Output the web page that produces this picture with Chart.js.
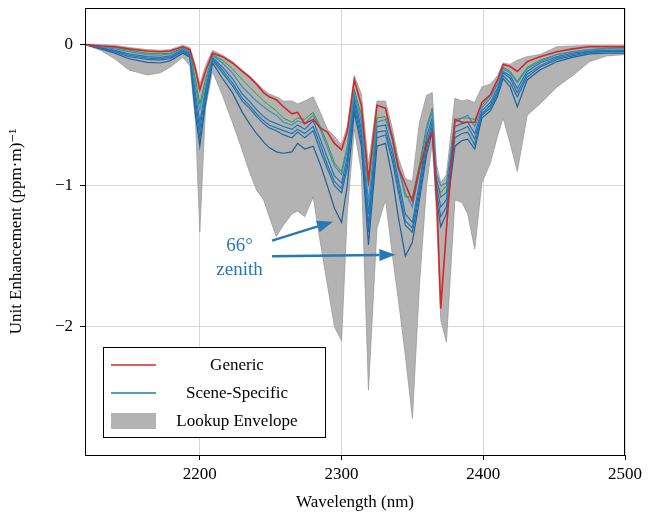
<!DOCTYPE html>
<html>
<head>
<meta charset="UTF-8" />
<title>Unit enhancement</title>
<script src="https://cdn.jsdelivr.net/npm/chart.js"></script>
<style>
  html, body { margin: 0; padding: 0; background: #fff; }
  #wrap { width: 648px; height: 517px; }
</style>
</head>
<body>
<div id="wrap"><canvas id="chart" width="648" height="517"></canvas></div>
<script>
// wavelengths (nm)
const WAVELENGTH = [2119, 2130, 2140, 2150, 2163, 2172, 2179, 2188, 2193, 2197,
  2200, 2204, 2209, 2216, 2223, 2230, 2235, 2240, 2245, 2249,
  2254, 2259, 2265, 2269, 2274, 2280, 2285, 2290, 2295, 2300,
  2304, 2309, 2314, 2319, 2325, 2331, 2336, 2340, 2345, 2350,
  2355, 2360, 2364, 2367, 2370, 2374, 2380, 2385, 2389, 2394,
  2399, 2405, 2410, 2414, 2419, 2424, 2431, 2440, 2452, 2463,
  2475, 2487, 2500];

const GENERIC = [0, -0.01, -0.015, -0.03, -0.045, -0.05, -0.045, -0.015, -0.035, -0.18,
  -0.32, -0.19, -0.06, -0.085, -0.13, -0.19, -0.23, -0.28, -0.34, -0.37,
  -0.39, -0.44, -0.49, -0.48, -0.56, -0.53, -0.59, -0.62, -0.70, -0.745,
  -0.62, -0.25, -0.43, -0.96, -0.43, -0.45, -0.67, -0.87, -0.99, -1.11,
  -0.88, -0.70, -0.62, -1.03, -1.87, -1.31, -0.53, -0.55, -0.55, -0.55,
  -0.41, -0.355, -0.25, -0.14, -0.155, -0.19, -0.12, -0.085, -0.05, -0.03,
  -0.015, -0.015, -0.015];

// unlabelled green curve
const GREEN_CURVE = [0, -0.012, -0.02, -0.04, -0.06, -0.065, -0.06, -0.025, -0.045, -0.25,
  -0.42, -0.25, -0.07, -0.11, -0.17, -0.25, -0.30, -0.35, -0.40, -0.43,
  -0.47, -0.52, -0.55, -0.52, -0.53, -0.48, -0.58, -0.70, -0.84, -0.90,
  -0.72, -0.32, -0.50, -1.00, -0.52, -0.51, -0.65, -0.85, -1.08, -1.08,
  -0.85, -0.58, -0.45, -0.98, -1.05, -1.00, -0.53, -0.52, -0.52, -0.53,
  -0.43, -0.36, -0.28, -0.16, -0.19, -0.26, -0.16, -0.11, -0.07, -0.05,
  -0.035, -0.025, -0.02];

// scene-specific curves, top to bottom (last one is the 66 deg zenith case)
const SCENE_A = [0, -0.015, -0.03, -0.05, -0.07, -0.075, -0.065, -0.03, -0.05, -0.30,
  -0.46, -0.28, -0.075, -0.13, -0.20, -0.30, -0.35, -0.40, -0.44, -0.47,
  -0.50, -0.55, -0.57, -0.54, -0.56, -0.50, -0.60, -0.73, -0.86, -0.92,
  -0.75, -0.33, -0.55, -1.12, -0.55, -0.53, -0.68, -0.88, -1.05, -1.15,
  -0.90, -0.60, -0.48, -0.92, -1.00, -0.98, -0.55, -0.52, -0.50, -0.58,
  -0.45, -0.38, -0.28, -0.17, -0.20, -0.27, -0.17, -0.12, -0.07, -0.05,
  -0.035, -0.03, -0.03];
const SCENE_B = [0, -0.02, -0.04, -0.065, -0.085, -0.09, -0.08, -0.035, -0.06, -0.35,
  -0.55, -0.32, -0.09, -0.16, -0.24, -0.35, -0.40, -0.46, -0.51, -0.54,
  -0.56, -0.58, -0.60, -0.57, -0.60, -0.54, -0.67, -0.80, -0.93, -0.98,
  -0.80, -0.37, -0.60, -1.20, -0.58, -0.57, -0.75, -0.95, -1.20, -1.26,
  -0.98, -0.65, -0.52, -0.95, -1.08, -1.05, -0.58, -0.56, -0.55, -0.63,
  -0.47, -0.41, -0.31, -0.19, -0.22, -0.31, -0.19, -0.13, -0.085, -0.06,
  -0.045, -0.04, -0.04];
const SCENE_C = [0, -0.022, -0.045, -0.075, -0.095, -0.10, -0.09, -0.045, -0.07, -0.40,
  -0.60, -0.35, -0.10, -0.18, -0.27, -0.38, -0.43, -0.49, -0.54, -0.57,
  -0.59, -0.61, -0.63, -0.60, -0.63, -0.58, -0.71, -0.85, -0.97, -1.02,
  -0.84, -0.40, -0.64, -1.28, -0.62, -0.61, -0.79, -1.00, -1.25, -1.30,
  -1.02, -0.70, -0.55, -1.00, -1.15, -1.10, -0.62, -0.60, -0.58, -0.67,
  -0.49, -0.43, -0.33, -0.20, -0.24, -0.34, -0.21, -0.15, -0.095, -0.07,
  -0.05, -0.045, -0.045];
const SCENE_D = [0, -0.025, -0.05, -0.085, -0.105, -0.11, -0.10, -0.05, -0.08, -0.45,
  -0.66, -0.38, -0.11, -0.20, -0.29, -0.40, -0.45, -0.51, -0.56, -0.59,
  -0.61, -0.64, -0.66, -0.62, -0.66, -0.61, -0.75, -0.88, -1.00, -1.05,
  -0.88, -0.44, -0.68, -1.33, -0.66, -0.64, -0.83, -1.04, -1.28, -1.33,
  -1.06, -0.74, -0.58, -1.05, -1.22, -1.15, -0.66, -0.63, -0.62, -0.71,
  -0.50, -0.45, -0.35, -0.22, -0.27, -0.37, -0.23, -0.16, -0.105, -0.08,
  -0.055, -0.05, -0.05];
const SCENE_E = [0, -0.03, -0.06, -0.10, -0.125, -0.13, -0.115, -0.06, -0.09, -0.50,
  -0.72, -0.42, -0.13, -0.24, -0.34, -0.48, -0.56, -0.63, -0.69, -0.73,
  -0.76, -0.77, -0.76, -0.70, -0.74, -0.72, -0.85, -1.00, -1.16, -1.26,
  -1.00, -0.48, -0.72, -1.42, -0.72, -0.70, -0.95, -1.22, -1.50, -1.40,
  -1.10, -0.78, -0.62, -1.10, -1.29, -1.20, -0.72, -0.68, -0.67, -0.74,
  -0.52, -0.47, -0.37, -0.24, -0.30, -0.44, -0.25, -0.18, -0.12, -0.09,
  -0.065, -0.06, -0.06];

const ENV_UPPER = [0.005, 0, -0.005, -0.02, -0.035, -0.04, -0.035, -0.005, -0.02, -0.15,
  -0.28, -0.15, -0.04, -0.075, -0.12, -0.18, -0.22, -0.27, -0.32, -0.35,
  -0.37, -0.40, -0.40, -0.42, -0.40, -0.37, -0.48, -0.60, -0.65, -0.71,
  -0.58, -0.22, -0.35, -0.85, -0.40, -0.40, -0.60, -0.80, -0.95, -0.97,
  -0.55, -0.36, -0.34, -0.85, -0.98, -0.92, -0.38, -0.40, -0.39, -0.41,
  -0.30, -0.28, -0.22, -0.13, -0.14, -0.11, -0.085, -0.07, -0.015, -0.01,
  -0.005, -0.005, -0.005];
const ENV_LOWER = [0, -0.04, -0.10, -0.18, -0.215, -0.20, -0.16, -0.09, -0.15, -0.55,
  -1.33, -0.45, -0.19, -0.36, -0.55, -0.75, -0.90, -1.03, -1.10, -1.22,
  -1.36, -1.28, -1.20, -1.18, -1.22, -1.08, -1.40, -1.70, -2.00, -2.10,
  -1.20, -0.60, -0.90, -2.45, -1.30, -1.10, -1.50, -1.80, -2.20, -2.65,
  -1.70, -1.00, -0.70, -1.20, -1.95, -2.11, -1.10, -1.12, -1.20, -1.45,
  -0.98, -0.84, -0.65, -0.52, -0.70, -0.90, -0.50, -0.42, -0.30, -0.22,
  -0.12, -0.08, -0.07];

const X_TICKS = [2200, 2300, 2400, 2500];
const Y_TICKS = [0, -1, -2];

const FONT = "'Liberation Serif', 'DejaVu Serif', serif";
const ANNOT_BLUE = '#2878b8';

function pts(vals) {
  return vals.map((v, i) => ({ x: WAVELENGTH[i], y: v }));
}

function line(label, vals, color, width, order) {
  return {
    label: label,
    data: pts(vals),
    borderColor: color,
    borderWidth: width,
    pointRadius: 0,
    tension: 0,
    fill: false,
    order: order
  };
}

// box on the top and right, legend, annotation
const extras = {
  id: 'extras',
  afterDraw(chart) {
    const ctx = chart.ctx;
    const a = chart.chartArea;
    const xs = chart.scales.x, ys = chart.scales.y;
    ctx.save();
    ctx.strokeStyle = '#000';
    ctx.lineWidth = 1;
    ctx.strokeRect(a.left + 0.5, a.top + 0.5, a.right - a.left - 1, a.bottom - a.top);

    // annotation text
    ctx.fillStyle = ANNOT_BLUE;
    ctx.font = '19px ' + FONT;
    ctx.textAlign = 'center';
    ctx.textBaseline = 'middle';
    ctx.fillText('66°', xs.getPixelForValue(2228), ys.getPixelForValue(-1.43));
    ctx.fillText('zenith', xs.getPixelForValue(2228), ys.getPixelForValue(-1.595));

    function arrow(x0, y0, x1, y1) {
      const px0 = xs.getPixelForValue(x0), py0 = ys.getPixelForValue(y0);
      const px1 = xs.getPixelForValue(x1), py1 = ys.getPixelForValue(y1);
      const ang = Math.atan2(py1 - py0, px1 - px0);
      const hl = 16, hw = 6;
      const bx = px1 - hl * Math.cos(ang), by = py1 - hl * Math.sin(ang);
      ctx.strokeStyle = ANNOT_BLUE;
      ctx.lineWidth = 2.5;
      ctx.beginPath();
      ctx.moveTo(px0, py0);
      ctx.lineTo(bx, by);
      ctx.stroke();
      ctx.fillStyle = ANNOT_BLUE;
      ctx.beginPath();
      ctx.moveTo(px1, py1);
      ctx.lineTo(bx + hw * Math.sin(ang), by - hw * Math.cos(ang));
      ctx.lineTo(bx - hw * Math.sin(ang), by + hw * Math.cos(ang));
      ctx.closePath();
      ctx.fill();
    }
    arrow(2251, -1.39, 2294, -1.255);
    arrow(2251, -1.50, 2338, -1.49);

    // legend
    const lx = a.left + 18, ly = a.bottom - 108;
    ctx.fillStyle = '#fff';
    ctx.fillRect(lx, ly, 222, 90);
    ctx.strokeStyle = '#000';
    ctx.lineWidth = 1;
    ctx.strokeRect(lx + 0.5, ly + 0.5, 222, 90);

    const items = [
      { text: 'Generic', color: '#d62728', kind: 'line' },
      { text: 'Scene-Specific', color: '#1f77b4', kind: 'line' },
      { text: 'Lookup Envelope', color: '#b3b3b3', kind: 'patch' }
    ];
    ctx.font = '17px ' + FONT;
    ctx.textAlign = 'center';
    ctx.textBaseline = 'middle';
    items.forEach((it, i) => {
      const cy = ly + 18 + i * 28;
      if (it.kind === 'line') {
        ctx.strokeStyle = it.color;
        ctx.lineWidth = 1.3;
        ctx.beginPath();
        ctx.moveTo(lx + 8, cy);
        ctx.lineTo(lx + 53, cy);
        ctx.stroke();
      } else {
        ctx.fillStyle = it.color;
        ctx.fillRect(lx + 8, cy - 8, 45, 16);
      }
      ctx.fillStyle = '#000';
      ctx.fillText(it.text, lx + 134, cy + 1);
    });
    ctx.restore();
  }
};

new Chart(document.getElementById('chart'), {
  type: 'line',
  data: {
    datasets: [
      line('Generic', GENERIC, '#d62728', 1.6, 0),
      line('Scene-Specific', SCENE_A, '#3b8bc8', 1.2, 1),
      line('Scene-Specific', SCENE_B, '#1f77b4', 1.2, 2),
      line('Scene-Specific', SCENE_C, '#1f77b4', 1.2, 3),
      line('Scene-Specific', SCENE_D, '#1f70ae', 1.2, 4),
      line('Scene-Specific', SCENE_E, '#1f5f9a', 1.2, 5),
      line('green', GREEN_CURVE, '#2ca02c', 1.0, 6),
      {
        label: 'Lookup Envelope upper',
        data: pts(ENV_UPPER),
        borderColor: '#9a9a9a',
        borderWidth: 0.8,
        pointRadius: 0,
        fill: false,
        order: 7
      },
      {
        label: 'Lookup Envelope',
        data: pts(ENV_LOWER),
        borderColor: '#9a9a9a',
        borderWidth: 0.8,
        backgroundColor: '#b3b3b3',
        pointRadius: 0,
        fill: '-1',
        order: 8
      }
    ]
  },
  options: {
    responsive: false,
    animation: false,
    layout: { padding: { left: 6, right: 23, top: 8, bottom: 0 } },
    plugins: {
      legend: { display: false },
      tooltip: { enabled: false }
    },
    scales: {
      x: {
        type: 'linear',
        min: 2119,
        max: 2500,
        afterFit(s) { s.height = 62; },
        afterBuildTicks(s) { s.ticks = X_TICKS.map(v => ({ value: v })); },
        grid: { color: '#d6d6d6', tickColor: '#000', tickLength: 5, lineWidth: 1 },
        border: { color: '#000', width: 1 },
        ticks: { color: '#000', font: { family: FONT, size: 17 }, padding: 4, maxRotation: 0, callback: v => String(v) },
        title: { display: true, text: 'Wavelength (nm)', color: '#000', font: { family: FONT, size: 17 }, padding: { top: 2, bottom: 4 } }
      },
      y: {
        type: 'linear',
        min: -2.91,
        max: 0.26,
        afterFit(s) { s.width = 79; s.paddingTop = 0; s.paddingBottom = 0; },
        afterBuildTicks(s) { s.ticks = Y_TICKS.map(v => ({ value: v })); },
        grid: { color: '#d6d6d6', tickColor: '#000', tickLength: 5, lineWidth: 1 },
        border: { color: '#000', width: 1 },
        ticks: {
          color: '#000',
          font: { family: FONT, size: 17 },
          padding: 7,
          callback: v => (v < 0 ? '\u2212' + Math.abs(v) : String(v))
        },
        title: { display: true, text: 'Unit Enhancement (ppm\u00b7m)\u207b\u00b9', color: '#000', font: { family: FONT, size: 17 }, padding: { top: 0, bottom: 4 } }
      }
    }
  },
  plugins: [extras]
});
</script>
</body>
</html>
